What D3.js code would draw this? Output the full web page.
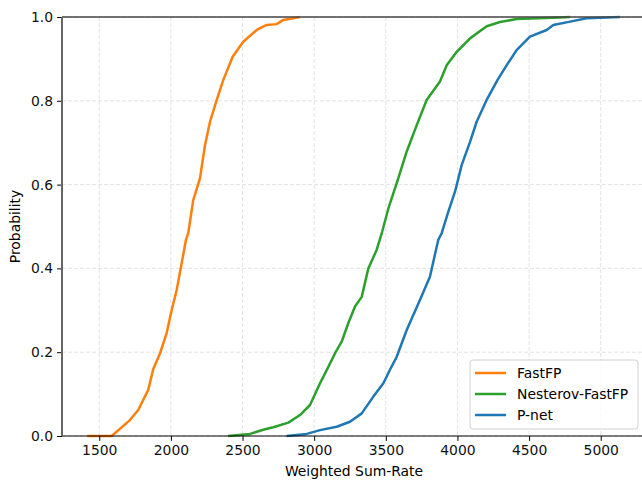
<!DOCTYPE html>
<html>
<head>
<meta charset="utf-8">
<script src="https://cdn.jsdelivr.net/npm/d3@7"></script>
<style>
  body { margin: 0; background: #fff; }
  svg text { font-family: "DejaVu Sans", sans-serif; }
</style>
</head>
<body>
<div id="chart"></div>
<script>
// data (sum-rate value, cumulative probability)
const fastfpX = [1416, 1587, 1714, 1772, 1842, 1877, 1924, 1970, 2005, 2040, 2075, 2105, 2121, 2156, 2203, 2238, 2273, 2320, 2366, 2431, 2505, 2599, 2669, 2738, 2785, 2901];
const fastfpP = [0, 0, 0.038, 0.062, 0.11, 0.16, 0.197, 0.245, 0.30, 0.348, 0.412, 0.468, 0.484, 0.563, 0.615, 0.694, 0.75, 0.802, 0.85, 0.905, 0.941, 0.969, 0.981, 0.983, 0.993, 1];

const nesterovX = [2400, 2552, 2599, 2657, 2715, 2820, 2901, 2971, 3041, 3099, 3145, 3192, 3238, 3285, 3332, 3378, 3436, 3475, 3518, 3587, 3646, 3716, 3785, 3878, 3925, 3995, 4088, 4204, 4297, 4413, 4716, 4785];
const nesterovP = [0, 0.005, 0.01, 0.016, 0.021, 0.032, 0.05, 0.074, 0.126, 0.165, 0.197, 0.225, 0.269, 0.309, 0.332, 0.40, 0.444, 0.488, 0.543, 0.615, 0.679, 0.742, 0.802, 0.846, 0.885, 0.917, 0.949, 0.978, 0.988, 0.995, 0.999, 1];

const pnetX = [2808, 2948, 3041, 3157, 3250, 3332, 3413, 3483, 3529, 3576, 3646, 3739, 3808, 3866, 3890, 3936, 3983, 4030, 4088, 4134, 4204, 4280, 4344, 4413, 4506, 4623, 4669, 4786, 4902, 5134];
const pnetP = [0, 0.005, 0.014, 0.022, 0.034, 0.054, 0.094, 0.126, 0.158, 0.189, 0.253, 0.325, 0.38, 0.468, 0.484, 0.535, 0.583, 0.647, 0.702, 0.75, 0.802, 0.85, 0.885, 0.921, 0.953, 0.969, 0.981, 0.989, 0.997, 1];

const seriesNames = ["FastFP", "Nesterov-FastFP", "P-net"];
const seriesColors = ["#ff7f0e", "#2ca02c", "#1f77b4"];
const xTicks = [1500, 2000, 2500, 3000, 3500, 4000, 4500, 5000];
const yTicks = [0, 0.2, 0.4, 0.6, 0.8, 1.0];

const series = [
    {name: seriesNames[0], color: seriesColors[0], pts: fastfpX.map((v,i)=>[v, fastfpP[i]])},
    {name: seriesNames[1], color: seriesColors[1], pts: nesterovX.map((v,i)=>[v, nesterovP[i]])},
    {name: seriesNames[2], color: seriesColors[2], pts: pnetX.map((v,i)=>[v, pnetP[i]])}
];

const width = 642, height = 481;
const mLeft = 62, mRight = 649, mTop = 17, mBottom = 436;
const fontSize = "13.9px";

const svg = d3.select("#chart").append("svg")
    .attr("width", width)
    .attr("height", height);

const x = d3.scaleLinear().domain([1240, 5337]).range([mLeft, mRight]);
const y = d3.scaleLinear().domain([0, 1]).range([mBottom, mTop]);

//////////////////////////////////////////////////////
// GRID
//////////////////////////////////////////////////////

const grid = svg.append("g");
grid.selectAll(".gx").data(xTicks).enter().append("line")
    .attr("x1", d=>x(d)).attr("x2", d=>x(d))
    .attr("y1", mTop).attr("y2", mBottom)
    .attr("stroke", "#e3e3e3").attr("stroke-width", 1)
    .attr("stroke-dasharray", "4,2");
grid.selectAll(".gy").data(yTicks).enter().append("line")
    .attr("x1", mLeft).attr("x2", width)
    .attr("y1", d=>y(d)).attr("y2", d=>y(d))
    .attr("stroke", "#e3e3e3").attr("stroke-width", 1)
    .attr("stroke-dasharray", "4,2");

//////////////////////////////////////////////////////
// LINES
//////////////////////////////////////////////////////

const line = d3.line().x(d=>x(d[0])).y(d=>y(d[1]));

svg.append("g").selectAll("path")
    .data([series[2], series[1], series[0]])
    .enter().append("path")
    .attr("d", d=>line(d.pts))
    .attr("fill", "none")
    .attr("stroke", d=>d.color)
    .attr("stroke-width", 2.5)
    .attr("stroke-linejoin", "round");

//////////////////////////////////////////////////////
// AXES
//////////////////////////////////////////////////////

const xAxis = svg.append("g")
    .attr("transform", `translate(0,${mBottom})`)
    .call(d3.axisBottom(x).tickValues(xTicks).tickSize(4.9).tickPadding(4).tickFormat(d3.format("d")));
xAxis.select(".domain").remove();
xAxis.selectAll("text").style("font-size", fontSize).attr("fill", "#111");

const yAxis = svg.append("g")
    .attr("transform", `translate(${mLeft},0)`)
    .call(d3.axisLeft(y).tickValues(yTicks).tickSize(4.9).tickPadding(4).tickFormat(d3.format(".1f")));
yAxis.select(".domain").remove();
yAxis.selectAll("text").style("font-size", fontSize).attr("fill", "#111");

// spines
svg.append("line").attr("x1", mLeft).attr("x2", width).attr("y1", mBottom).attr("y2", mBottom)
    .attr("stroke", "#000").attr("stroke-width", 1);
svg.append("line").attr("x1", mLeft).attr("x2", width).attr("y1", mTop).attr("y2", mTop)
    .attr("stroke", "#444").attr("stroke-width", 1.5);
svg.append("line").attr("x1", mLeft).attr("x2", mLeft).attr("y1", mTop).attr("y2", mBottom)
    .attr("stroke", "#666").attr("stroke-width", 2);

// axis labels
svg.append("text")
    .attr("x", 354).attr("y", 476)
    .attr("text-anchor", "middle")
    .style("font-size", fontSize)
    .text("Weighted Sum-Rate");

svg.append("text")
    .attr("transform", "rotate(-90)")
    .attr("x", -(mTop+mBottom)/2).attr("y", 20)
    .attr("text-anchor", "middle")
    .style("font-size", fontSize)
    .text("Probability");

//////////////////////////////////////////////////////
// LEGEND
//////////////////////////////////////////////////////

const legend = svg.append("g").attr("transform", "translate(470,360)");
legend.append("rect")
    .attr("width", 168).attr("height", 69)
    .attr("rx", 3)
    .attr("fill", "#fff").attr("fill-opacity", 0.8)
    .attr("stroke", "#d0d0d0");

const items = legend.selectAll(".item").data(series).enter().append("g")
    .attr("transform", (d,i)=>`translate(0,${13 + i*21})`);
items.append("line")
    .attr("x1", 5).attr("x2", 36)
    .attr("stroke", d=>d.color).attr("stroke-width", 2.5);
items.append("text")
    .attr("x", 47).attr("y", 5)
    .style("font-size", fontSize)
    .text(d=>d.name);
</script>
</body>
</html>
